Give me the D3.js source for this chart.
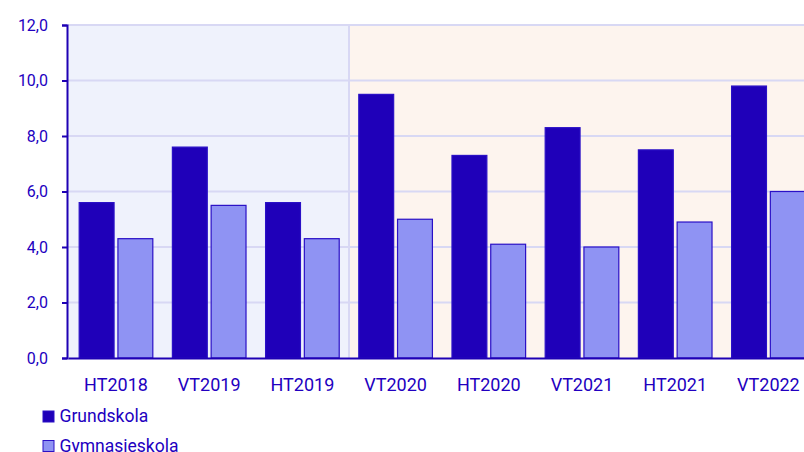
<!DOCTYPE html>
<html>
<head>
<meta charset="utf-8">
<script src="https://cdn.jsdelivr.net/npm/d3@7"></script>
<style>
  body { margin: 0; background: #ffffff; }
  text { font-family: Roboto, "Noto Sans", sans-serif; fill: #2200c0; }
</style>
</head>
<body>
<div id="chart"></div>
<script>
width = 804;
height = 452;

// data
var terms = ["HT2018", "VT2019", "HT2019", "VT2020", "HT2020", "VT2021", "HT2021", "VT2022"];
var seriesNames = ["Grundskola", "Gymnasieskola"];
var grundskola = [5.6, 7.6, 5.6, 9.5, 7.3, 8.3, 7.5, 9.8];
var gymnasieskola = [4.3, 5.5, 4.3, 5.0, 4.1, 4.0, 4.9, 6.0];
var yTicks = [0, 2, 4, 6, 8, 10, 12];

var colors = ["#1f00b9", "#8f93f3"];
var strokes = ["#2a10c6", "#2a10c6"];
var textColor = "#2200c0";

var svg = d3.select("#chart")
    .append("svg")
    .attr("width", width)
    .attr("height", height);

// scales
var x = d3.scaleBand()
    .domain(terms)
    .range([68, 816.4])
    .paddingInner(0.21)
    .paddingOuter(0.12);

var xSub = d3.scaleBand()
    .domain(seriesNames)
    .range([0, x.bandwidth()])
    .paddingInner(0.1);

var y = d3.scaleLinear()
    .domain([0, 12])
    .range([358, 25]);

// background areas: before and after the pandemic
var split = (x("HT2019") + x.bandwidth() + x("VT2020")) / 2;

svg.append("rect")
    .attr("x", 67)
    .attr("y", y(12))
    .attr("width", split - 67)
    .attr("height", y(0) - y(12))
    .style("fill", "#eff2fc");

svg.append("rect")
    .attr("x", split)
    .attr("y", y(12))
    .attr("width", 820 - split)
    .attr("height", y(0) - y(12))
    .style("fill", "#fdf4ee");

// gridlines
svg.selectAll("gridline")
    .data(yTicks.filter(d => d > 0))
    .enter()
    .append("line")
    .attr("x1", 67)
    .attr("x2", 820)
    .attr("y1", d => y(d))
    .attr("y2", d => y(d))
    .style("stroke", "#d8d8f4")
    .style("stroke-width", 2);

svg.append("line")
    .attr("x1", split)
    .attr("x2", split)
    .attr("y1", y(12))
    .attr("y2", y(0))
    .style("stroke", "#d8d8f4")
    .style("stroke-width", 2);

// bars
var rows = terms.map((t, i) => ({ term: t, values: [grundskola[i], gymnasieskola[i]] }));

var groups = svg.selectAll("groups")
    .data(rows)
    .enter()
    .append("g")
    .attr("transform", d => "translate(" + x(d.term) + ",0)");

groups.selectAll("rect")
    .data(d => d.values.map((v, j) => ({ name: seriesNames[j], value: v, j: j })))
    .enter()
    .append("rect")
    .attr("x", d => xSub(d.name))
    .attr("y", d => y(d.value))
    .attr("width", xSub.bandwidth())
    .attr("height", d => y(0) - y(d.value))
    .style("fill", d => colors[d.j])
    .style("stroke", d => strokes[d.j])
    .style("stroke-width", 1.2);

// y axis
var yAxis = d3.axisLeft(y)
    .tickValues(yTicks)
    .tickFormat(d => d3.format(".1f")(d).replace(".", ","))
    .tickSizeInner(5)
    .tickSizeOuter(5)
    .tickPadding(14);

var gy = svg.append("g")
    .attr("transform", "translate(67,0)")
    .call(yAxis);

gy.selectAll(".tick text").style("font-size", "16px");

// x axis
var xAxis = d3.axisBottom(x)
    .tickSize(0)
    .tickPadding(20);

var gx = svg.append("g")
    .attr("transform", "translate(0," + y(0) + ")")
    .call(xAxis);

gx.selectAll(".tick text").style("font-size", "18px");

svg.selectAll(".domain, .tick line")
    .style("stroke", "#1e00b4")
    .style("stroke-width", 2);

svg.selectAll(".tick text")
    .style("fill", textColor);

// legend
var legend = svg.selectAll("legend")
    .data(seriesNames)
    .enter()
    .append("g")
    .attr("transform", (d, i) => "translate(43," + (411 + i * 29.5) + ")");

legend.append("rect")
    .attr("width", 11)
    .attr("height", 11)
    .style("fill", (d, i) => colors[i])
    .style("stroke", (d, i) => strokes[i])
    .style("stroke-width", 1);

legend.append("text")
    .attr("x", 16.5)
    .attr("y", 11)
    .style("font-size", "17.5px")
    .text(d => d);
</script>
</body>
</html>
